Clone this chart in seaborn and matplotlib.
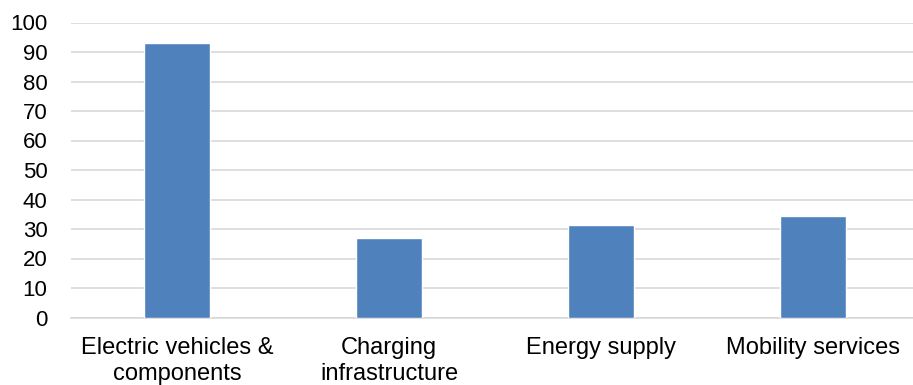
import matplotlib
matplotlib.use("Agg")
import matplotlib.pyplot as plt
import seaborn as sns
import pandas as pd

categories = ["Electric vehicles &\ncomponents", "Charging\ninfrastructure",
              "Energy supply", "Mobility services"]
values = [93, 27, 31.3, 34.4]
y_ticks = [0, 10, 20, 30, 40, 50, 60, 70, 80, 90, 100]

sns.set_theme(style="white")
plt.rcParams["font.family"] = ["Liberation Sans", "DejaVu Sans"]

df = pd.DataFrame({"category": categories, "value": values})

fig = plt.figure(figsize=(9.13, 3.85), dpi=100)
ax = fig.add_axes([71 / 913, 67.5 / 385, 848 / 913, 295 / 385])

sns.barplot(data=df, x="category", y="value", color="#4f81bd",
            saturation=1, width=0.31, ax=ax, zorder=3)

ax.set_ylim(0, 100)
ax.set_xlim(-0.5, 3.5)
ax.set_yticks(y_ticks)
ax.set_yticklabels([str(t) for t in y_ticks])
ax.yaxis.grid(True, color="#d4d4d4", linewidth=1.1, zorder=0)
ax.set_axisbelow(True)
for side in ["top", "right", "left"]:
    ax.spines[side].set_visible(False)
ax.spines["bottom"].set_color("#d4d4d4")
ax.spines["bottom"].set_linewidth(1.1)
ax.set_xlabel("")
ax.set_ylabel("")
ax.tick_params(axis="y", length=0, pad=17, labelsize=16, labelcolor="#000000")
ax.tick_params(axis="x", length=0, pad=14, labelsize=17, labelcolor="#000000")
for lbl in ax.get_xticklabels():
    lbl.set_linespacing(1.25)

fig.savefig("out.png", dpi=100)
